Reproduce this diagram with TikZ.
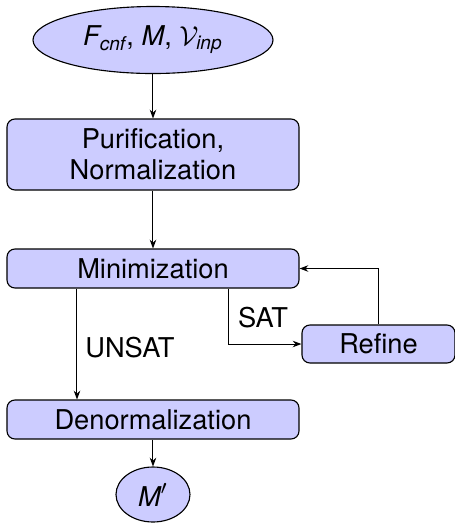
\documentclass[tikz,border=0pt]{standalone}
\usepackage{amsmath}
\usepackage{fontspec}
\setmainfont{TeX Gyre Heros}
\usetikzlibrary{shapes.geometric,arrows.meta,calc}
\begin{document}
\begin{tikzpicture}[x=0.4pt,y=-0.4pt,
  font=\fontsize{10.9}{12.4}\selectfont,
  box/.style={draw, fill=blue!20, rounded corners=3.2pt, minimum width=116.8pt, minimum height=15.6pt, inner sep=0pt, align=center, line width=0.45pt},
  oval/.style={draw, fill=blue!20, ellipse, inner sep=0pt, line width=0.45pt},
  arr/.style={-{Stealth[length=3.5pt,width=2.6pt]}, line width=0.4pt}]
\useasboundingbox (0,0) rectangle (455,523);
\node[oval, minimum width=96pt, minimum height=26.8pt] (in) at (153,40) {$\text{\itshape F}_{\text{\itshape cnf}}$, $\text{\itshape M}$, $\mathcal{V}_{\text{\itshape inp}}$};
\node[box, minimum height=28.4pt] (pur) at (153,154.5) {Purification,\\Normalization};
\node[box] (min) at (153,268.5) {Minimization};
\node[box, minimum width=61.2pt, minimum height=15.2pt] (ref) at (378.5,344) {Refine};
\node[box] (den) at (153,419.5) {Denormalization};
\node[oval, minimum width=29.6pt, minimum height=22pt] (out) at (153,494.5) {$\text{\itshape M}'$};
\coordinate (u) at (77,0);
\coordinate (s) at (229,0);
\draw[arr] (in) -- (pur);
\draw[arr] (pur) -- (min);
\draw[arr] (min.south -| u) -- (den.north -| u);
\draw[arr] (min.south -| s) |- (ref.west);
\draw[arr] (ref.north) |- (min.east);
\draw[arr] (den) -- (out);
\node (unsat) at (130,348) {UNSAT};
\node (sat) at (263,318) {SAT};
\end{tikzpicture}
\end{document}
